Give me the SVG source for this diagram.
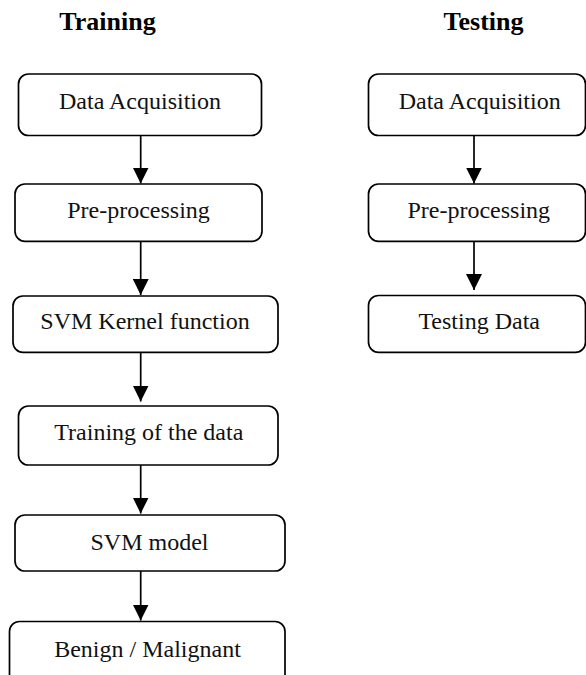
<svg xmlns="http://www.w3.org/2000/svg" width="586" height="675" viewBox="0 0 586 675">
<defs>
<style>
.box{fill:#fff;stroke:#000;stroke-width:1.7}
.t{font-size:24px;fill:#111;text-anchor:middle}
.h{font-size:26px;font-weight:bold;fill:#000;text-anchor:middle}
.c{stroke:#000;stroke-width:1.7;fill:none}
</style>
<marker id="ah" markerUnits="userSpaceOnUse" markerWidth="16" markerHeight="16" viewBox="0 0 16 16" refX="16" refY="8" orient="auto">
<path d="M0,0 L16,8 L0,16 Z" fill="#000"/>
</marker>
</defs>
<rect width="586" height="675" fill="#fff"/>
<g font-family="'Liberation Serif', 'Times New Roman', serif">
<text class="h" x="107.5" y="30">Training</text>
<text class="h" x="483.5" y="30">Testing</text>
<g id="connectors">
<line class="c" x1="140.7" y1="136" x2="140.7" y2="183.5" marker-end="url(#ah)"/>
<line class="c" x1="140.7" y1="241.5" x2="140.7" y2="295" marker-end="url(#ah)"/>
<line class="c" x1="140.7" y1="352.5" x2="140.7" y2="401.5" marker-end="url(#ah)"/>
<line class="c" x1="140.7" y1="465" x2="140.7" y2="513.5" marker-end="url(#ah)"/>
<line class="c" x1="140.7" y1="571" x2="140.7" y2="620.5" marker-end="url(#ah)"/>
<line class="c" x1="474" y1="136" x2="474" y2="183.5" marker-end="url(#ah)"/>
<line class="c" x1="474" y1="241.5" x2="474" y2="290" marker-end="url(#ah)"/>
</g>
<g id="train-acq"><rect class="box" x="18.5" y="74" width="243" height="61.5" rx="10"/><text class="t" x="140" y="109.3">Data Acquisition</text></g>
<g id="train-pre"><rect class="box" x="15" y="184" width="247" height="57.3" rx="10"/><text class="t" x="138.5" y="218.3">Pre-processing</text></g>
<g id="train-kernel"><rect class="box" x="13" y="296" width="265" height="56.3" rx="10"/><text class="t" x="145" y="329.3">SVM Kernel function</text></g>
<g id="train-training"><rect class="box" x="18.5" y="406" width="259.5" height="59" rx="10"/><text class="t" x="148.8" y="440">Training of the data</text></g>
<g id="train-model"><rect class="box" x="15" y="515" width="270" height="56" rx="10"/><text class="t" x="149.5" y="550">SVM model</text></g>
<g id="train-result"><rect class="box" x="9.5" y="621.5" width="275.5" height="70" rx="10"/><text class="t" x="147.5" y="656.7">Benign / Malignant</text></g>
<g id="test-acq"><rect class="box" x="368.5" y="74" width="217" height="61.5" rx="10"/><text class="t" x="479.7" y="109.3">Data Acquisition</text></g>
<g id="test-pre"><rect class="box" x="368.5" y="184" width="217" height="57.3" rx="10"/><text class="t" x="478.8" y="218.3">Pre-processing</text></g>
<g id="test-data"><rect class="box" x="368.5" y="295.5" width="217" height="56.8" rx="10"/><text class="t" x="479.2" y="329.3">Testing Data</text></g>
</g>
</svg>
